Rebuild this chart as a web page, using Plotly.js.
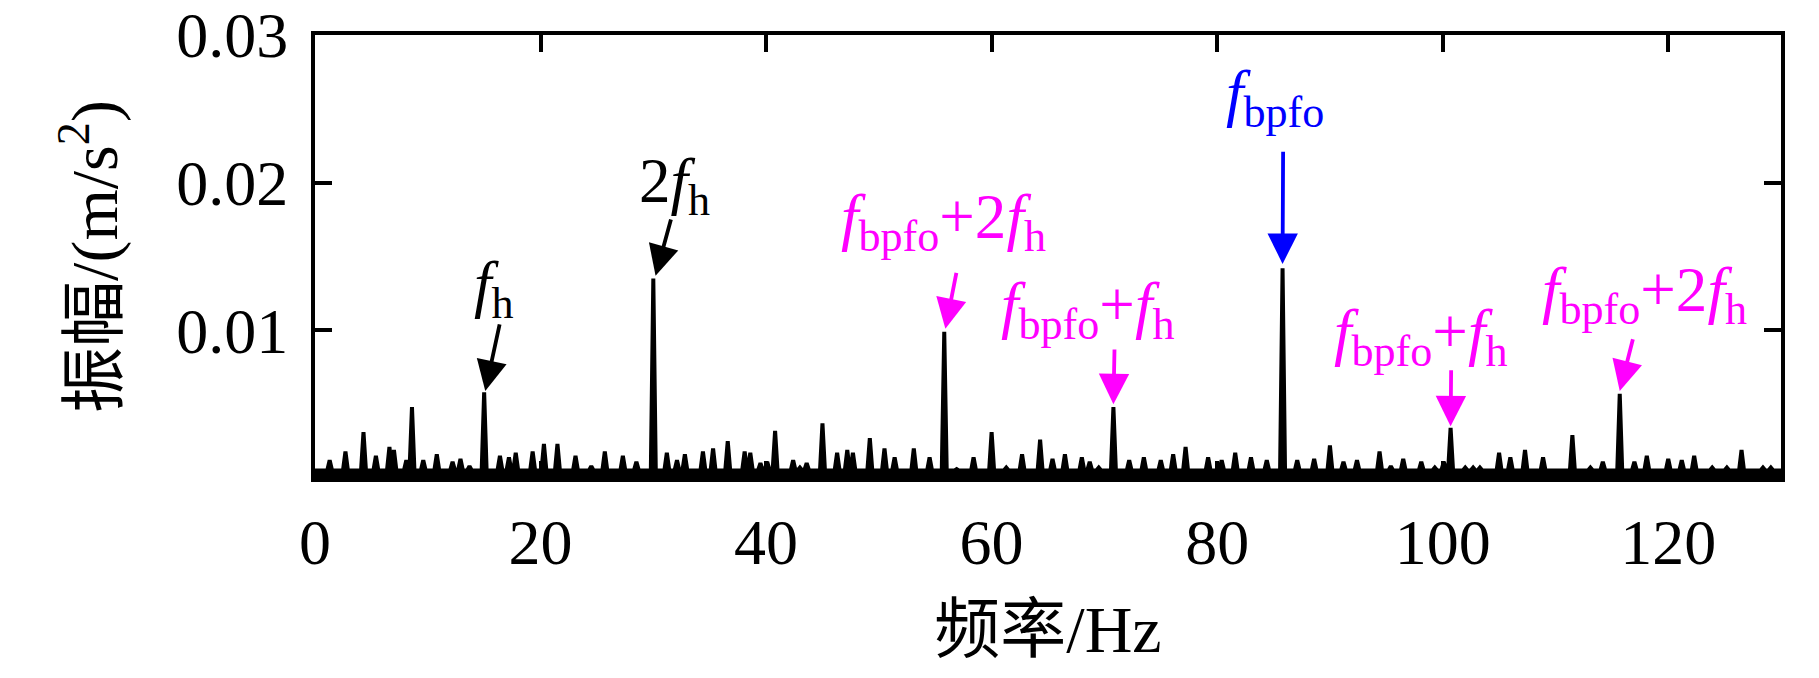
<!DOCTYPE html>
<html>
<head>
<meta charset="utf-8">
<script src="https://cdn.plot.ly/plotly-3.0.1.min.js"></script>
<style>html,body{margin:0;padding:0;background:#fff;}#chart{width:1819px;height:678px;}</style>
</head>
<body>
<div id="chart"></div>
<script>
// Spectral peaks (frequency in Hz, amplitude in m/s^2)
const peakFreq = [1.3,2.7,4.3,5.4,6.6,7.0,8.1,8.6,9.6,10.8,12.2,12.9,13.7,15.0,16.4,17.2,17.8,19.3,20.3,21.5,23.1,24.5,25.7,27.3,28.5,30.0,31.2,32.1,32.8,34.4,35.3,36.6,38.1,38.6,39.5,40.1,40.8,42.4,43.0,43.6,45.0,46.3,47.2,47.7,49.2,50.5,51.4,53.1,54.5,55.8,56.9,58.4,60.0,61.3,62.7,64.3,65.4,66.5,68.0,68.7,69.5,70.8,72.2,73.5,75.0,76.1,77.2,79.2,80.4,81.6,83.0,84.4,85.8,87.1,88.6,90.0,91.2,92.4,94.4,95.4,96.5,98.1,99.3,100.1,100.7,102.0,102.7,103.3,105.0,106.0,107.3,108.9,110.1,111.5,113.1,114.2,115.7,117.0,118.1,120.0,121.2,122.3,123.9,125.2,126.5,127.6,128.4,129.1];
const peakAmp = [0.0012,0.0018,0.0031,0.0015,0.0021,0.0019,0.0012,0.0048,0.0012,0.0016,0.0011,0.0013,0.0008,0.0058,0.0015,0.0014,0.0017,0.0018,0.0023,0.0023,0.0015,0.0008,0.0018,0.0015,0.0011,0.0135,0.0017,0.0012,0.0016,0.0018,0.0020,0.0025,0.0018,0.0017,0.0010,0.0011,0.0032,0.0012,0.0007,0.0010,0.0037,0.0017,0.0019,0.0017,0.0027,0.0020,0.0014,0.0020,0.0014,0.0099,0.0006,0.0014,0.0031,0.0007,0.0016,0.0026,0.0013,0.0016,0.0014,0.0011,0.0007,0.0048,0.0012,0.0014,0.0012,0.0016,0.0021,0.0014,0.0012,0.0017,0.0014,0.0012,0.0142,0.0012,0.0013,0.0022,0.0011,0.0012,0.0018,0.0008,0.0013,0.0011,0.0007,0.0011,0.0034,0.0007,0.0007,0.0007,0.0017,0.0014,0.0019,0.0014,0.0005,0.0029,0.0007,0.0011,0.0057,0.0011,0.0015,0.0013,0.0012,0.0015,0.0007,0.0007,0.0019,0.0005,0.0007,0.0007];
const noiseFloor = 0.0005;
const freqRange = [0, 130];
const xTickVals = [0, 20, 40, 60, 80, 100, 120];
const yTickVals = [0.01, 0.02, 0.03];
const yTickText = ['0.01', '0.02', '0.03'];

const halfWidth = 0.22;
const sx = [freqRange[0]], sy = [noiseFloor];
for (let i = 0; i < peakFreq.length; i++) {
  sx.push(peakFreq[i] - halfWidth, peakFreq[i], peakFreq[i] + halfWidth);
  sy.push(noiseFloor, peakAmp[i], noiseFloor);
}
sx.push(freqRange[1]); sy.push(noiseFloor);

const serif = 'Liberation Serif, "Times New Roman", serif';
const cjk = 'Liberation Serif, "Noto Sans CJK SC", serif';
const MAG = '#ff00ff', BLUE = '#0000ff';

function label(text, x, y, color) {
  return {x: x, y: y, xref: 'x', yref: 'y', text: text, showarrow: false,
    xanchor: 'center', yanchor: 'middle', font: {family: serif, size: 63, color: color}};
}
function arrow(x, y, ax, ay, color) {
  return {x: x, y: y, ax: ax, ay: ay, xref: 'x', yref: 'y', axref: 'x', ayref: 'y',
    text: '', showarrow: true, arrowhead: 2, arrowsize: 1.6, arrowwidth: 3.8,
    arrowcolor: color, standoff: 0};
}
const fh = '<i>f</i><sub>h</sub>';
const fb = '<i>f</i><sub>bpfo</sub>';

const annotations = [
  label(fh, 15.9, 0.0128, '#000'),
  arrow(15.1, 0.0059, 16.4, 0.0105, '#000'),
  label('2' + fh, 31.9, 0.0198, '#000'),
  arrow(30.2, 0.0137, 31.6, 0.0176, '#000'),
  label(fb + '+2' + fh, 55.7, 0.0174, MAG),
  arrow(55.9, 0.0101, 56.9, 0.0140, MAG),
  label(fb + '+' + fh, 68.5, 0.0114, MAG),
  arrow(70.8, 0.0050, 70.9, 0.0088, MAG),
  label(fb, 85.1, 0.0258, BLUE),
  arrow(85.8, 0.0145, 85.85, 0.0222, BLUE),
  label(fb + '+' + fh, 98.0, 0.0096, MAG),
  arrow(100.7, 0.0035, 100.75, 0.0074, MAG),
  label(fb + '+2' + fh, 117.9, 0.01245, MAG),
  arrow(115.7, 0.0059, 116.9, 0.0095, MAG)
];

const trace = {x: sx, y: sy, type: 'scatter', mode: 'lines',
  line: {color: '#000', width: 4}, fill: 'tozeroy', fillcolor: '#000',
  hoverinfo: 'skip', showlegend: false};

const axisCommon = {showline: true, linewidth: 4, linecolor: '#000', mirror: 'ticks',
  ticks: 'inside', ticklen: 17, tickwidth: 4, tickcolor: '#000',
  showgrid: false, zeroline: false, tickfont: {family: serif, size: 64, color: '#000'}};

const layout = {
  width: 1819, height: 678,
  margin: {l: 315, r: 38, t: 35, b: 200},
  paper_bgcolor: '#fff', plot_bgcolor: '#fff',
  showlegend: false,
  xaxis: Object.assign({}, axisCommon, {range: freqRange, tickvals: xTickVals,
    ticklabelstandoff: 5,
    title: {text: '频率/Hz', font: {family: cjk, size: 66, color: '#000'}, standoff: 30}}),
  yaxis: Object.assign({}, axisCommon, {range: [0, 0.03], tickvals: yTickVals, ticktext: yTickText,
    ticklabelstandoff: 10,
    title: {text: '振幅/(m/s<sup>2</sup>)', font: {family: cjk, size: 66, color: '#000'}, standoff: 38}}),
  annotations: annotations
};

Plotly.newPlot('chart', [trace], layout, {staticPlot: true, displayModeBar: false});
</script>
</body>
</html>
